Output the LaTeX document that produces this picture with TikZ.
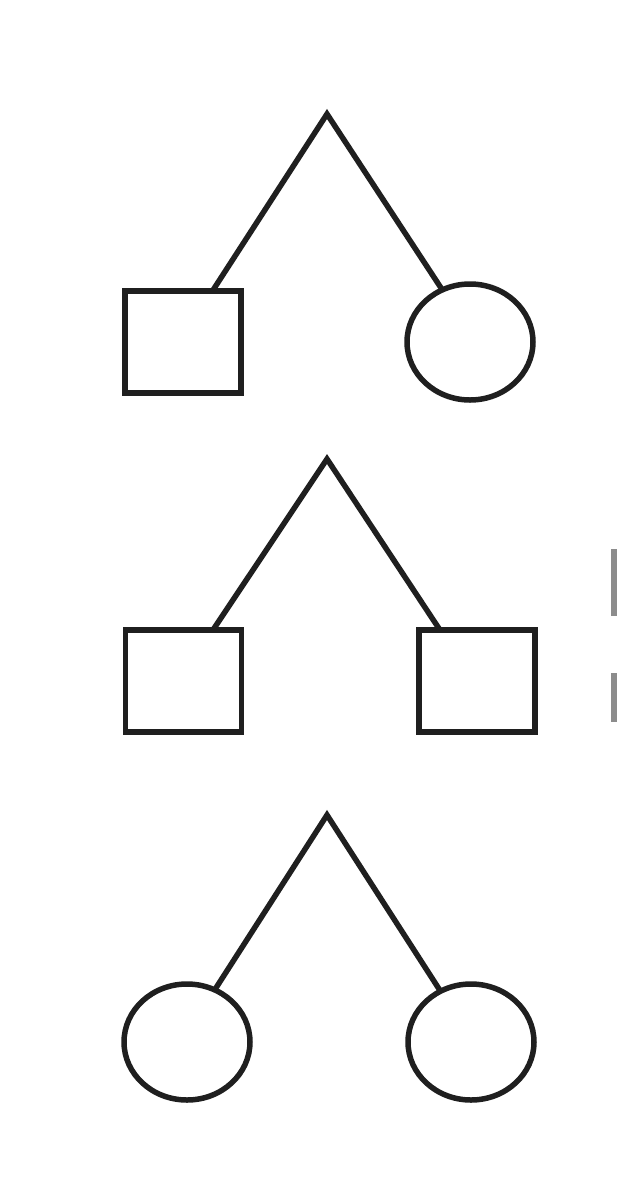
\documentclass[tikz,border=0pt]{standalone}
\usetikzlibrary{shapes.geometric}
\begin{document}
\begin{tikzpicture}[x=1pt,y=-1pt,
  male/.style={draw=black!88,line width=5.5pt,rectangle,inner sep=0pt,outer sep=0pt,minimum width=116pt,minimum height=102pt},
  female/.style={draw=black!88,line width=5.5pt,ellipse,inner sep=0pt,outer sep=0pt,minimum width=126pt,minimum height=116pt},
  twinline/.style={draw=black!88,line width=5.5pt,line join=miter},
  frag/.style={fill=black!45,draw=none}]
\useasboundingbox (0,0) rectangle (617,1200);
% top pair
\coordinate (a1) at (327,114);
\node[male] (m1) at (183,342) {};
\node[female] (f1) at (470,342) {};
\draw[twinline] (m1.60) -- (a1) -- (f1.118);
% middle pair
\coordinate (a2) at (327,459);
\node[male] (m2) at (183.5,681) {};
\node[male] (m3) at (477,681) {};
\draw[twinline] (m2.60) -- (a2) -- (m3.126);
% bottom pair
\coordinate (a3) at (327,815);
\node[female] (f2) at (187,1042) {};
\node[female] (f3) at (471,1042) {};
\draw[twinline] (f2.62) -- (a3) -- (f3.121);
% cropped fragments at right edge
\path[frag] (611,549) rectangle (617,616);
\path[frag] (611,673) rectangle (617,722);
\end{tikzpicture}
\end{document}
